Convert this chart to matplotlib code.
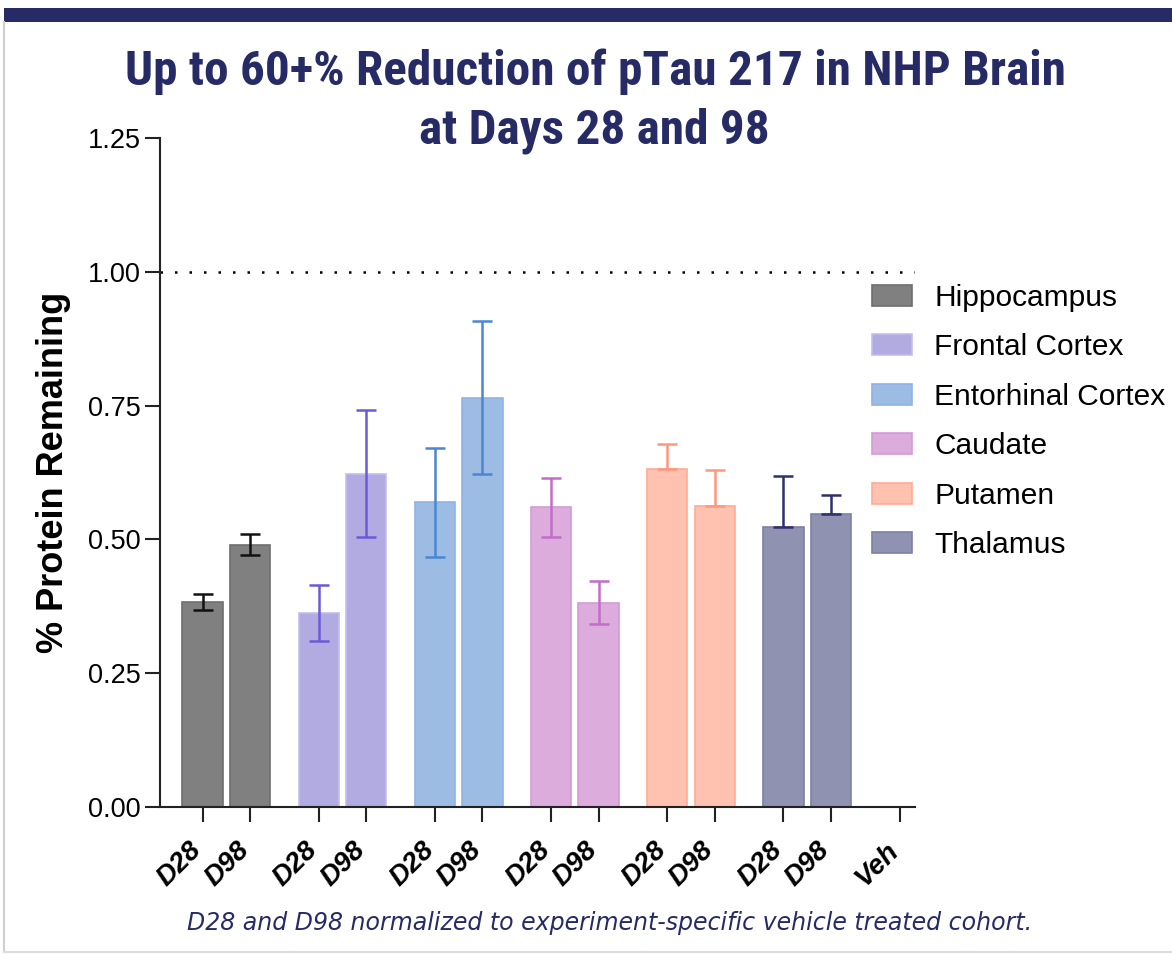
import numpy as np
import matplotlib.pyplot as plt
from matplotlib.patches import Patch, Rectangle
from matplotlib import font_manager

# regions and values (fraction of vehicle remaining)
regions = ["Hippocampus", "Frontal Cortex", "Entorhinal Cortex",
           "Caudate", "Putamen", "Thalamus"]
timepoints = ["D28", "D98"]
means = [[0.383, 0.490],
         [0.363, 0.623],
         [0.569, 0.765],
         [0.560, 0.382],
         [0.632, 0.562],
         [0.524, 0.547]]
err_up = [[0.015, 0.020],
          [0.052, 0.118],
          [0.102, 0.143],
          [0.055, 0.040],
          [0.047, 0.068],
          [0.095, 0.036]]
err_down = [[0.015, 0.020],
            [0.052, 0.118],
            [0.102, 0.143],
            [0.055, 0.040],
            [0.0, 0.0],
            [0.0, 0.0]]

face_cols = ["#808080", "#b1abe2", "#9dbce3", "#dcacdd", "#ffc1b0", "#8f92b0"]
edge_cols = ["#6e6e6e", "#c4bdf0", "#8fb3e6", "#d39bd9", "#ffab94", "#7c80a2"]
err_cols = ["#111111", "#6b5ad6", "#4a86d2", "#c36cc9", "#ff977c", "#2d306e"]

navy = "#262b66"

avail = {f.name for f in font_manager.fontManager.ttflist}
narrow = "Liberation Sans"
for cand in ["Liberation Sans Narrow", "Roboto Condensed", "Open Sans Condensed",
             "Carlito", "Noto Sans Display"]:
    if cand in avail:
        narrow = cand
        break
sans = "Liberation Sans"

plt.rcParams['font.family'] = [sans, 'DejaVu Sans']

fig = plt.figure(figsize=(11.72, 9.55), dpi=100)

# frame: navy band on top, grey border left and bottom
fig.add_artist(Rectangle((0.003, 0.977), 0.997, 0.015, transform=fig.transFigure,
                         facecolor=navy, edgecolor='none'))
fig.add_artist(plt.Line2D([0.003, 0.003], [0.003, 0.977], transform=fig.transFigure,
                          color="#cfcfcf", lw=1.5))
fig.add_artist(plt.Line2D([0.003, 1.0], [0.003, 0.003], transform=fig.transFigure,
                          color="#dddddd", lw=1.5))

ax = fig.add_axes([0.1365, 0.155, 0.644, 0.7005])

group_step = 2.45
bar_w = 0.85
positions = []
labels = []
for g, name in enumerate(regions):
    for j, tp in enumerate(timepoints):
        x = g * group_step + j
        ax.bar(x, means[g][j], width=bar_w, color=face_cols[g],
               edgecolor=edge_cols[g], linewidth=1.2, zorder=2)
        ax.errorbar(x, means[g][j], yerr=[[err_down[g][j]], [err_up[g][j]]],
                    fmt='none', ecolor=err_cols[g], elinewidth=1.8,
                    capsize=7, capthick=1.8, zorder=3)
        positions.append(x)
        labels.append(tp)
positions.append(6 * group_step)
labels.append("Veh")

ax.axhline(1.0, color='black', lw=1.8, ls=(0, (1, 4.8)), zorder=1)

ax.set_xlim(-0.9, 6 * group_step + 0.32)
ax.set_ylim(0, 1.25)
yt = [0, 0.25, 0.5, 0.75, 1.0, 1.25]
ax.set_yticks(yt)
ax.set_yticklabels([f"{v:.2f}" for v in yt], fontsize=19.5)
ax.set_xticks(positions)
ax.set_xticklabels(labels, rotation=45, ha='right', va='baseline', rotation_mode='anchor',
                   fontsize=20, fontweight='bold', fontstyle='italic')
ax.tick_params(axis='both', length=11, width=1.5, color='#222222')
ax.tick_params(axis='x', pad=21)
ax.tick_params(axis='y', pad=3)
for s in ['top', 'right']:
    ax.spines[s].set_visible(False)
for s in ['left', 'bottom']:
    ax.spines[s].set_linewidth(1.5)
    ax.spines[s].set_color('#222222')

ax.set_ylabel("% Protein Remaining", fontsize=26, fontweight='bold', labelpad=12)

handles = [Patch(facecolor=face_cols[i], edgecolor=edge_cols[i], linewidth=1.2)
           for i in range(len(regions))]
ax.legend(handles, regions, loc='upper left', bbox_to_anchor=(0.927, 0.80),
          frameon=False, fontsize=21.5, handlelength=1.35, handleheight=0.7,
          handletextpad=0.75, labelspacing=0.72, borderaxespad=0)

fig.text(0.508, 0.925, "Up to 60+% Reduction of pTau 217 in NHP Brain",
         ha='center', va='center', fontsize=35.5, fontweight='bold',
         color=navy, family=[narrow, 'DejaVu Sans'])
fig.text(0.507, 0.863, "at Days 28 and 98",
         ha='center', va='center', fontsize=35.5, fontweight='bold',
         color=navy, family=[narrow, 'DejaVu Sans'])

fig.text(0.52, 0.033, "D28 and D98 normalized to experiment-specific vehicle treated cohort.",
         ha='center', va='center', fontsize=17, fontstyle='italic',
         color=navy, family=['DejaVu Sans'])

fig.savefig("out.png", dpi=100)
